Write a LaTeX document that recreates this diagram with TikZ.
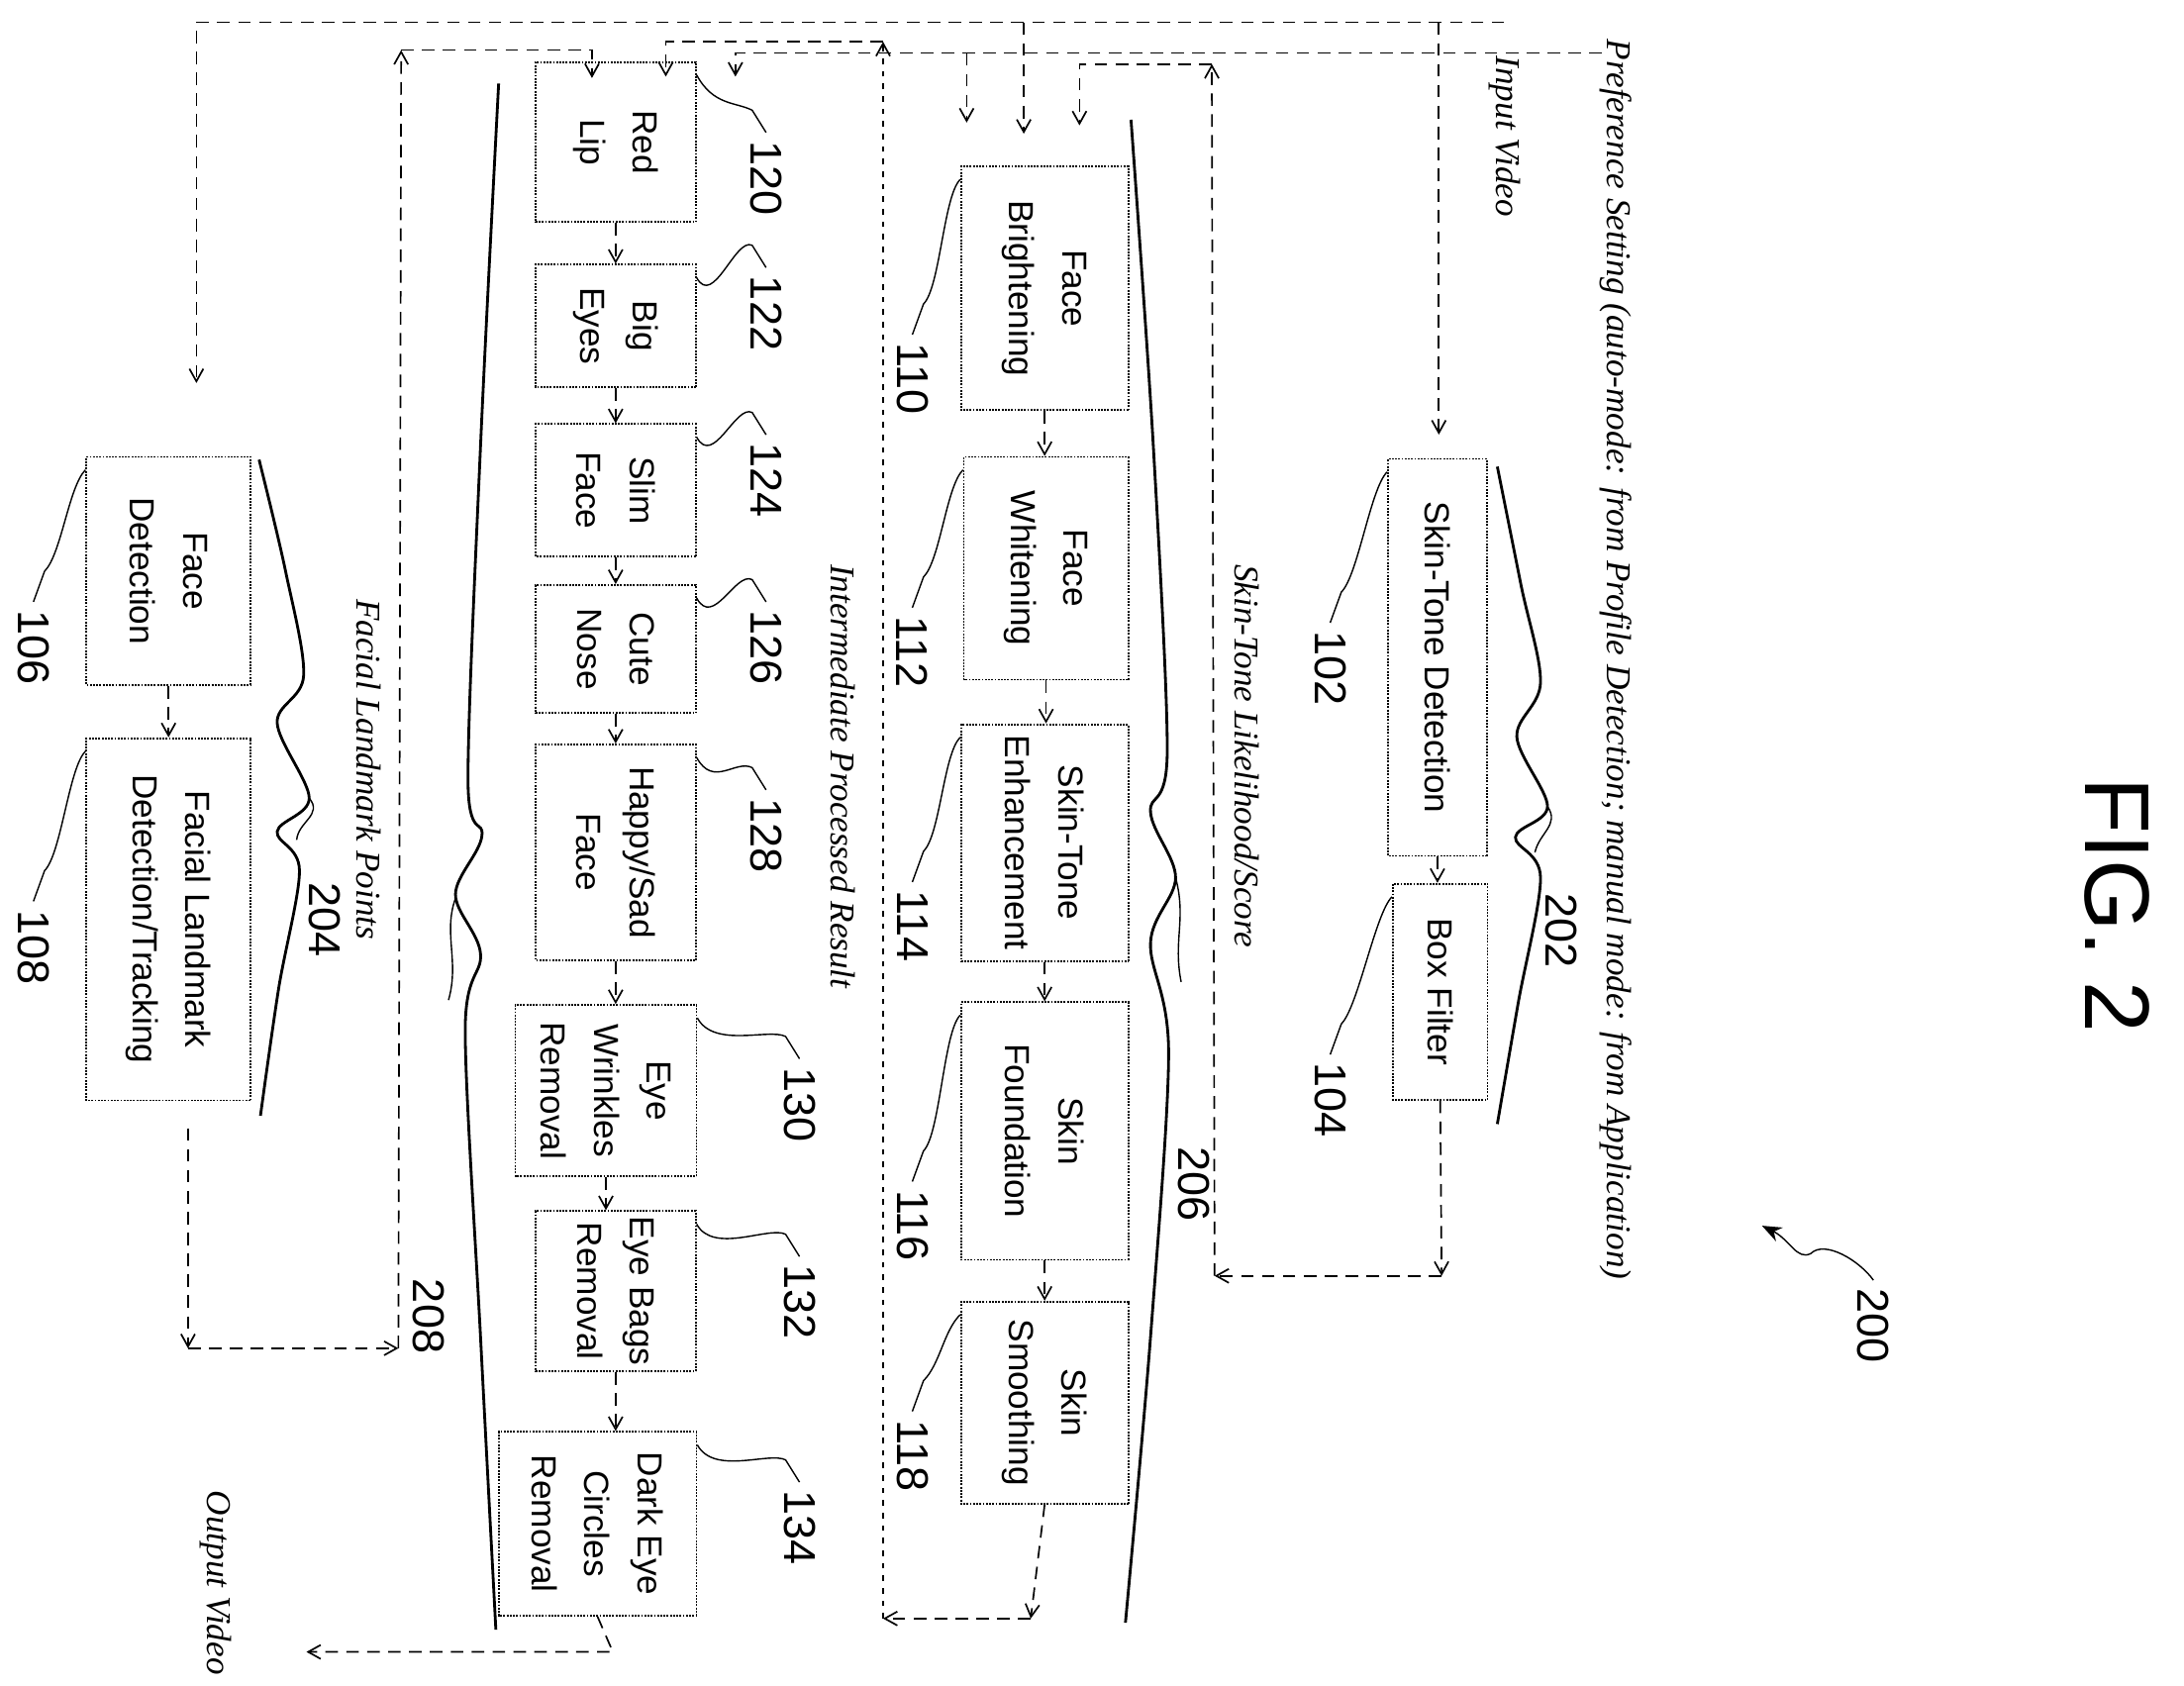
\documentclass[tikz,border=0pt]{standalone}
\usepackage{fontspec}
\setmainfont{Liberation Sans}
\newfontfamily\italfont{Liberation Serif}
\usetikzlibrary{arrows.meta}
\begin{document}
\begin{tikzpicture}[x=1pt,y=-1pt,
 box/.style={draw, densely dotted, line width=1.3pt, rotate=-90, align=center, font=\fontsize{25}{38}\selectfont, inner sep=0pt},
 num/.style={rotate=-90, font=\fontsize{32}{32}\selectfont, inner sep=0pt},
 note/.style={rotate=-90, anchor=west, font=\fontsize{25}{25}\italfont\itshape, inner sep=0pt},
 flow/.style={line width=1.2pt, dash pattern=on 9pt off 6pt},
 arr/.style={flow, -{Straight Barb[length=9pt,width=10pt]}},
 lead/.style={line width=1pt},
 brace/.style={line width=2pt}]
\useasboundingbox (0,0) rectangle (1568,1210);
% boxes
\node[box, minimum width=285, minimum height=71] (b102) at (1032,472) {Skin-Tone Detection};
\node[box, minimum width=155, minimum height=68] (b104) at (1034,712) {Box Filter};
\node[box, minimum width=164, minimum height=118] (b106) at (121,410) {Face\\Detection};
\node[box, minimum width=260, minimum height=118] (b108) at (121,660) {Facial Landmark\\Detection/Tracking};
\node[box, minimum width=175, minimum height=120] (b110) at (750,207) {Face\\Brightening};
\node[box, minimum width=160, minimum height=118] (b112) at (751,408) {Face\\Whitening};
\node[box, minimum width=170, minimum height=120] (b114) at (750,605) {Skin-Tone\\Enhancement};
\node[box, minimum width=185, minimum height=120] (b116) at (750,812) {Skin\\Foundation};
\node[box, minimum width=145, minimum height=120] (b118) at (750,1007) {Skin\\Smoothing};
\node[box, minimum width=115, minimum height=115] (b120) at (442,102) {Red\\Lip};
\node[box, minimum width=88, minimum height=115] (b122) at (442,234) {Big\\Eyes};
\node[box, minimum width=95, minimum height=115] (b124) at (442,352) {Slim\\Face};
\node[box, minimum width=92, minimum height=115] (b126) at (442,466) {Cute\\Nose};
\node[box, minimum width=155, minimum height=115] (b128) at (442,612) {Happy/Sad\\Face};
\node[box, minimum width=123, minimum height=130] (b130) at (435,783) {Eye\\Wrinkles\\Removal};
\node[box, minimum width=115, minimum height=115] (b132) at (442,927) {Eye Bags\\Removal};
\node[box, minimum width=132, minimum height=142] (b134) at (429,1094) {Dark Eye\\Circles\\Removal};
% chain arrows
\foreach \a/\b in {b102/b104,b106/b108,b110/b112,b112/b114,b114/b116,b116/b118,b120/b122,b122/b124,b124/b126,b126/b128,b128/b130,b130/b132,b132/b134}
  \draw[arr] (\a.east) -- (\a.east |- \b.west);
% numbers
\node[num] (n102) at (955,480) {102};
\node[num] (n104) at (955,790) {104};
\node[num] (n106) at (24,465) {106};
\node[num] (n108) at (24,680) {108};
\node[num] (n110) at (655,272) {110};
\node[num] (n112) at (655,468) {112};
\node[num] (n114) at (655,665) {114};
\node[num] (n116) at (655,880) {116};
\node[num] (n118) at (655,1045) {118};
\node[num] (n120) at (550,128) {120};
\node[num] (n122) at (550,225) {122};
\node[num] (n124) at (550,345) {124};
\node[num] (n126) at (550,465) {126};
\node[num] (n128) at (550,600) {128};
\node[num] (n130) at (574,793) {130};
\node[num] (n132) at (574,935) {132};
\node[num] (n134) at (574,1097) {134};
\node[num] (n202) at (1121,668) {202};
\node[num] (n204) at (233,660) {204};
\node[num] (n206) at (857,850) {206};
\node[num] (n208) at (308,945) {208};
\node[num] (n200) at (1345,952) {200};
\node[rotate=-90, font=\fontsize{66}{66}\selectfont] (fig) at (1520,650) {FIG. 2};
% leaders
\foreach \b/\n in {b102/n102,b104/n104,b106/n106,b108/n108,b110/n110,b112/n112,b114/n114,b116/n116,b118/n118}
  \draw[lead] ([yshift=-10pt]\b.south west) .. controls +(-12,12) and +(12,-12) .. ([shift={(8,-28)}]\n.west) -- ([shift={(0,-6)}]\n.west);
\foreach \b/\n in {b120/n120,b122/n122,b124/n124,b126/n126,b128/n128,b130/n130,b132/n132,b134/n134}
  \draw[lead] ([yshift=-10pt]\b.north west) .. controls +(12,22) and +(-12,-6) .. ([shift={(-10,-22)}]\n.west) -- ([shift={(0,-6)}]\n.west);
% braces
\draw[brace] plot[smooth, tension=0.55] coordinates {(1075,335) (1092,420) (1106,490) (1089,529) (1111,579) (1088,601) (1106,630) (1090,720) (1075,807)};
\draw[lead] (1111,579) .. controls (1120,592) and (1105,598) .. (1102,612);
\draw[brace] plot[smooth, tension=0.55] coordinates {(186,330) (205,410) (218,485) (199,519) (222,573) (199,597) (215,625) (200,710) (187,801)};
\draw[lead] (222,573) .. controls (232,585) and (214,590) .. (213,603);
\draw[brace] plot[smooth, tension=0.55] coordinates {(812,86) (828,320) (838,540) (826,583) (844,630) (826,677) (839,756) (826,960) (808,1165)};
\draw[lead] (844,630) .. controls (852,660) and (842,675) .. (848,705);
\draw[brace] plot[smooth, tension=0.55] coordinates {(358,60) (345,320) (336,560) (346,600) (327,642) (345,685) (334,740) (345,960) (356,1170)};
\draw[lead] (327,645) .. controls (318,670) and (330,690) .. (322,718);
% 200 arrow
\coordinate (a200) at (1265,880);
\draw[lead, -{Stealth[length=14pt,width=11pt]}] ([shift={(0,-6)}]n200.west) .. controls (1335,905) and (1310,890) .. (1300,900) .. controls (1290,905) and (1285,890) .. (a200);
% notes
\node[note] (pref) at (1160,28) {Preference Setting (auto-mode: from Profile Detection; manual mode: from Application)};
\node[note] (inv) at (1080,40) {Input Video};
\node[note] (stl) at (895,405) {Skin-Tone Likelihood/Score};
\node[note] (ipr) at (605,405) {Intermediate Processed Result};
\node[note] (flp) at (265,430) {Facial Landmark Points};
\node[note] (outv) at (155,1070) {Output Video};
% input video flow
\coordinate (i0) at (1080,16);
\coordinate (i1) at (141,16);
\coordinate (i2) at (141,275);
\coordinate (i3) at (1033,16);
\coordinate (i4) at (1033,312);
\coordinate (i5) at (735,16);
\coordinate (i6) at (735,96);
\draw[arr] (i0) -- (i1) -- (i2);
\draw[arr] (i3) -- (i4);
\draw[arr] (i5) -- (i6);
% preference flow
\coordinate (p0) at (1150,38);
\coordinate (p1) at (528,38);
\coordinate (p2) at (528,55);
\coordinate (p3) at (694,38);
\coordinate (p4) at (694,88);
\draw[arr] (p0) -- (p1) -- (p2);
\draw[arr] (p3) -- (p4);
% skin tone likelihood flow
\coordinate (s0) at (1035,916);
\coordinate (s1) at (872,916);
\coordinate (s2) at (870,46);
\coordinate (s3) at (775,46);
\coordinate (s4) at (775,90);
\draw[arr] (b104.east) -- (s0);
\draw[arr] (s0) -- (s1);
\draw[arr] (s1) -- (s2);
\draw[arr] (s2) -- (s3) -- (s4);
% intermediate processed result flow
\coordinate (m0) at (740,1162);
\coordinate (m1) at (634,1162);
\coordinate (m2) at (634,30);
\coordinate (m3) at (478,30);
\coordinate (m4) at (478,55);
\draw[arr] (b118.east) -- (m0);
\draw[arr] (m0) -- (m1);
\draw[arr, dash pattern=on 4pt off 5pt] (m1) -- (m2);
\draw[arr] (m2) -- (m3) -- (m4);
% facial landmark flow
\coordinate (l00) at (135,810);
\coordinate (l0) at (135,968);
\coordinate (l1) at (286,968);
\coordinate (l2) at (288,36);
\coordinate (l3) at (425,36);
\coordinate (l4) at (425,56);
\draw[arr] (l00) -- (l0);
\draw[arr] (l0) -- (l1);
\draw[arr] (l1) -- (l2);
\draw[arr] (l2) -- (l3) -- (l4);
% output flow
\coordinate (o0) at (440,1186);
\coordinate (o1) at (220,1186);
\draw[arr] (b134.east) -- (o0) -- (o1);
\end{tikzpicture}
\end{document}
